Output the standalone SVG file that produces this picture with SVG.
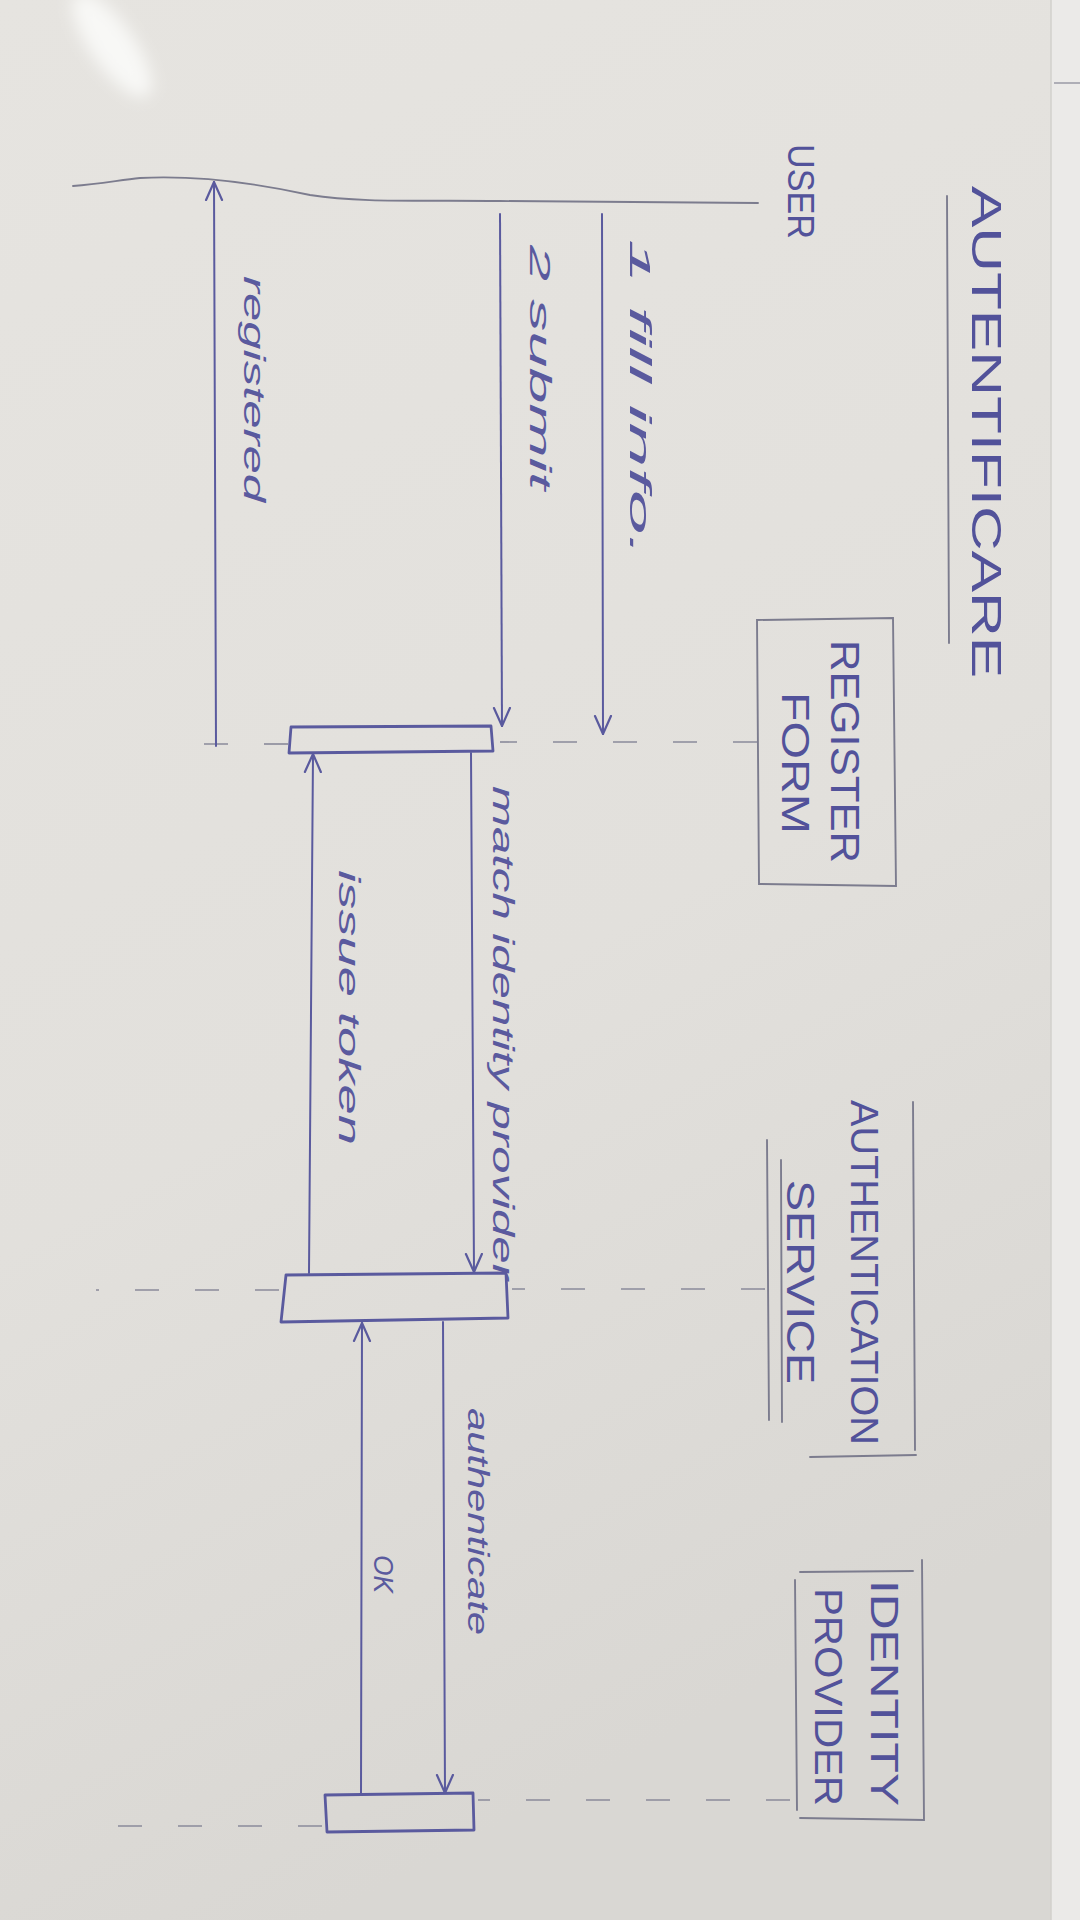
<svg xmlns="http://www.w3.org/2000/svg" width="1080" height="1920" viewBox="0 0 1080 1920">
<defs>
<style>
.pen{stroke:#5a5a9e;stroke-width:2;fill:none;stroke-linecap:round}
.bar{stroke:#5a5a9e;stroke-width:2.8;fill:none;stroke-linejoin:round}
.pencil{stroke:#7c7c8e;stroke-width:1.9;fill:none;stroke-linecap:round}
.life{stroke:#8a8a9a;stroke-width:1.6;fill:none;stroke-dasharray:24 36}
.hdr{font-family:"Liberation Sans",Arial,sans-serif;fill:#52529a}
.lbl{font-family:"Liberation Sans",Arial,sans-serif;font-style:italic;fill:#5a5a9e}
</style>
<marker id="ah" viewBox="0 0 20 20" refX="19" refY="10" markerWidth="20" markerHeight="20" markerUnits="userSpaceOnUse" orient="auto">
<path d="M1,2 L19,10 L1,18" fill="none" stroke="#5a5a9e" stroke-width="2.2" stroke-linecap="round"/>
</marker>
<linearGradient id="paper" x1="0" y1="0" x2="0.3" y2="1">
<stop offset="0" stop-color="#e6e4e0"/>
<stop offset="0.6" stop-color="#e2e0dc"/>
<stop offset="1" stop-color="#d9d7d3"/>
</linearGradient>
<filter id="blur" x="-50%" y="-50%" width="200%" height="200%"><feGaussianBlur stdDeviation="8"/></filter>
</defs>

<g id="background">
<rect x="0" y="0" width="1080" height="1920" fill="url(#paper)"/>
<rect x="1051" y="0" width="29" height="1920" fill="#ebeae8"/>
<line x1="1051" y1="0" x2="1051" y2="1920" stroke="#d2d0cc" stroke-width="1.5"/>
<line x1="1054" y1="83" x2="1080" y2="83" stroke="#9a9aa6" stroke-width="1.5"/>
<ellipse cx="112" cy="45" rx="22" ry="62" transform="rotate(-35 112 45)" fill="#f8f8f6" filter="url(#blur)"/>
</g>

<g id="title">
<text class="hdr" transform="translate(986,186) rotate(90)" dominant-baseline="central" font-size="42" textLength="492" lengthAdjust="spacingAndGlyphs">AUTENTIFICARE</text>
<line class="pencil" x1="947" y1="196" x2="949" y2="643"/>
</g>

<g id="user">
<text class="hdr" transform="translate(800,144) rotate(90)" dominant-baseline="central" font-size="36" textLength="95" lengthAdjust="spacingAndGlyphs">USER</text>
<path class="pencil" d="M73,186 C100,184 120,180 140,178 C200,175 260,184 310,195 C360,203 420,200 500,201 L758,203"/>
</g>

<g id="register-form">
<path class="pencil" d="M757,620 L893,618 L896,886 L759,884 Z"/>
<text class="hdr" transform="translate(845,640) rotate(90)" dominant-baseline="central" font-size="40" textLength="223" lengthAdjust="spacingAndGlyphs">REGISTER</text>
<text class="hdr" transform="translate(795,692) rotate(90)" dominant-baseline="central" font-size="38" textLength="142" lengthAdjust="spacingAndGlyphs">FORM</text>
<line class="life" x1="757" y1="742" x2="500" y2="742"/>
<line class="life" x1="288" y1="744" x2="170" y2="744"/>
<path class="bar" d="M291,727 L491,726 L493,751 L289,753 Z"/>
</g>

<g id="authentication-service">
<path class="pencil" d="M913,1102 L915,1450 M916,1455 L810,1457 M767,1140 L769,1420 M781,1160 L782,1422"/>
<text class="hdr" transform="translate(864,1100) rotate(90)" dominant-baseline="central" font-size="38" textLength="345" lengthAdjust="spacingAndGlyphs">AUTHENTICATION</text>
<text class="hdr" transform="translate(800,1180) rotate(90)" dominant-baseline="central" font-size="38" textLength="204" lengthAdjust="spacingAndGlyphs">SERVICE</text>
<line class="life" x1="765" y1="1289" x2="512" y2="1289"/>
<line class="life" x1="279" y1="1290" x2="96" y2="1290"/>
<path class="bar" d="M286,1275 L506,1273 L508,1318 L281,1322 Z"/>
</g>

<g id="identity-provider">
<path class="pencil" d="M800,1572 L913,1571 M922,1560 L924,1820 L800,1818 M795,1580 L797,1810"/>
<text class="hdr" transform="translate(884,1580) rotate(90)" dominant-baseline="central" font-size="38" textLength="226" lengthAdjust="spacingAndGlyphs">IDENTITY</text>
<text class="hdr" transform="translate(828,1588) rotate(90)" dominant-baseline="central" font-size="38" textLength="218" lengthAdjust="spacingAndGlyphs">PROVIDER</text>
<line class="life" x1="790" y1="1800" x2="478" y2="1800"/>
<line class="life" x1="322" y1="1826" x2="110" y2="1826"/>
<path class="bar" d="M325,1795 L473,1793 L474,1830 L327,1832 Z"/>
</g>

<g id="connectors">
<line class="pen" x1="602" y1="214" x2="603" y2="734" marker-end="url(#ah)"/>
<text class="lbl" transform="translate(640,239) rotate(90)" dominant-baseline="central" font-size="30" textLength="318" lengthAdjust="spacingAndGlyphs">1 fill info.</text>

<line class="pen" x1="500" y1="214" x2="502" y2="726" marker-end="url(#ah)"/>
<text class="lbl" transform="translate(540,245) rotate(90)" dominant-baseline="central" font-size="30" textLength="245" lengthAdjust="spacingAndGlyphs">2  submit</text>

<line class="pen" x1="216" y1="746" x2="214" y2="182" marker-end="url(#ah)"/>
<text class="lbl" transform="translate(254,276) rotate(90)" dominant-baseline="central" font-size="30" textLength="226" lengthAdjust="spacingAndGlyphs">registered</text>

<line class="pen" x1="471" y1="753" x2="474" y2="1272" marker-end="url(#ah)"/>
<text class="lbl" transform="translate(503,786) rotate(90)" dominant-baseline="central" font-size="30" textLength="494" lengthAdjust="spacingAndGlyphs">match identity provider</text>

<line class="pen" x1="309" y1="1273" x2="313" y2="754" marker-end="url(#ah)"/>
<text class="lbl" transform="translate(349,870) rotate(90)" dominant-baseline="central" font-size="30" textLength="275" lengthAdjust="spacingAndGlyphs">issue token</text>

<line class="pen" x1="443" y1="1322" x2="445" y2="1793" marker-end="url(#ah)"/>
<text class="lbl" transform="translate(478,1408) rotate(90)" dominant-baseline="central" font-size="30" textLength="227" lengthAdjust="spacingAndGlyphs">authenticate</text>

<line class="pen" x1="361" y1="1793" x2="362" y2="1323" marker-end="url(#ah)"/>
<text class="lbl" transform="translate(383,1555) rotate(90)" dominant-baseline="central" font-size="28" textLength="38" lengthAdjust="spacingAndGlyphs">OK</text>
</g>
</svg>
